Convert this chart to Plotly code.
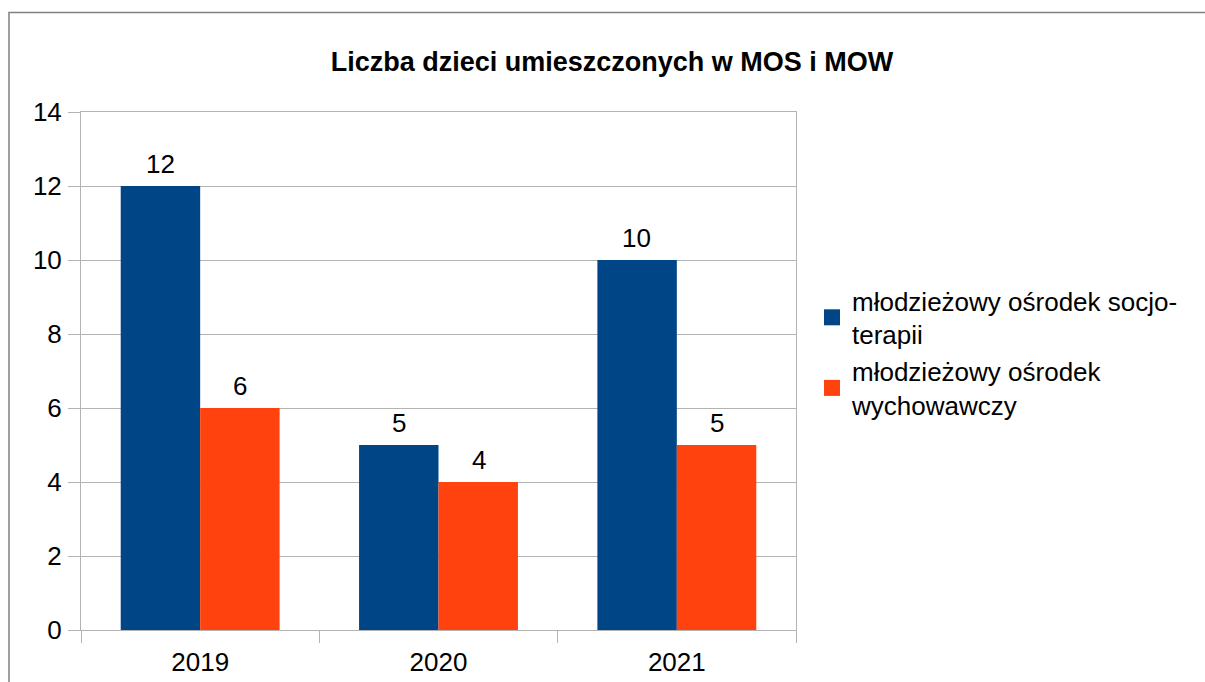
import plotly.graph_objects as go

years = ["2019", "2020", "2021"]
mos = [12, 5, 10]
mow = [6, 4, 5]
series_names = ["młodzieżowy ośrodek socjo-<br>terapii", "młodzieżowy ośrodek<br>wychowawczy"]
colors = ["#004586", "#ff420e"]
title_text = "<b>Liczba dzieci umieszczonych w MOS i MOW</b>"
y_ticks = [0, 2, 4, 6, 8, 10, 12, 14]

W, H = 1205, 682
L, T = 81, 112
PR, PB = 796, 630
R, B = W - PR, H - PB
pw, ph = PR - L, PB - T

fig = go.Figure()
for vals, name, col in zip([mos, mow], series_names, colors):
    fig.add_trace(go.Bar(x=years, y=vals, name=name, marker=dict(color=col, line=dict(width=0)),
                         showlegend=False))
for name, col in zip(series_names, colors):
    fig.add_trace(go.Scatter(x=[years[0]], y=[None], mode="markers", name=name,
                             marker=dict(symbol="square", size=16, color=col), hoverinfo="skip"))

# data labels (category index positions)
for vals, shift in [(mos, -40), (mow, 40)]:
    for i, v in enumerate(vals):
        fig.add_annotation(x=i, y=v, xref="x", yref="y", text=str(v), showarrow=False,
                           xshift=shift, yanchor="bottom", yshift=5,
                           font=dict(size=26, color="#000000"))

fig.add_shape(type="rect", xref="paper", yref="paper",
              x0=(9 - L) / pw, x1=(W + 30 - L) / pw,
              y0=(PB - (H + 30)) / ph, y1=(PB - 12.5) / ph,
              line=dict(color="#808080", width=1.5), fillcolor="rgba(0,0,0,0)", layer="below")

fig.update_layout(
    width=W, height=H,
    margin=dict(l=L, r=R, t=T, b=B, autoexpand=False),
    paper_bgcolor="white", plot_bgcolor="white",
    font=dict(family="Liberation Sans, Arial, sans-serif", size=26, color="#000000"),
    title=dict(text=title_text, x=612 / W, xanchor="center", y=1 - 62 / H,
               yanchor="middle", font=dict(size=27)),
    barmode="group", bargap=1 / 3, bargroupgap=0,
    showlegend=True,
    legend=dict(x=(853 - 41 - L) / pw, xanchor="left", y=(PB - 277) / ph,
                yanchor="top", font=dict(size=26), bgcolor="rgba(0,0,0,0)", tracegroupgap=10),
    xaxis=dict(type="category", categoryorder="array", categoryarray=years,
               range=[-0.5, len(years) - 0.5], autorange=False, automargin=False,
               showgrid=False, showline=True, linecolor="#b3b3b3", linewidth=1,
               mirror=True, ticks="outside", tickson="boundaries", ticklen=12, tickcolor="#b3b3b3",
               tickfont=dict(size=26), tickangle=0, ticklabelstandoff=9),
    yaxis=dict(range=[0, 14], tickvals=y_ticks, showgrid=True, gridcolor="#b3b3b3", gridwidth=1,
               showline=True, linecolor="#b3b3b3", linewidth=1, mirror=True, automargin=False,
               ticks="outside", ticklen=12, tickcolor="#b3b3b3", zeroline=False,
               tickfont=dict(size=26), ticklabelstandoff=1),
)

fig.write_html("out.html", config={"displayModeBar": False},
               post_script="document.body.style.margin='0';document.body.style.overflow='hidden';")
